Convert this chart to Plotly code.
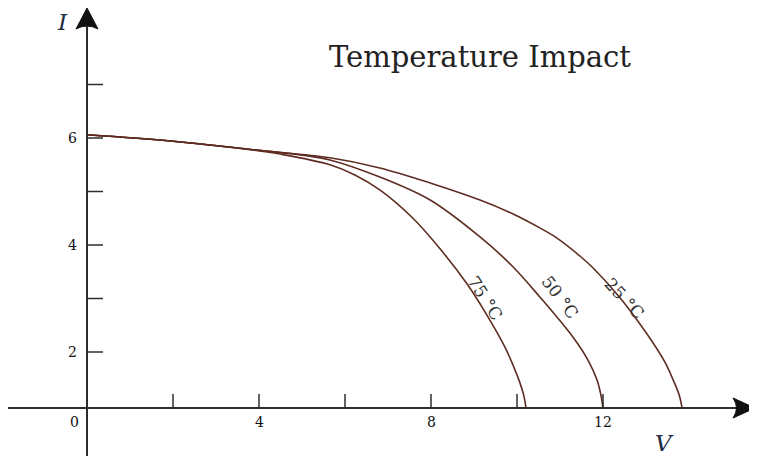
import plotly.graph_objects as go

# ---- data (V in volts, I in amperes) ----
v_25 = [0, 2.0, 4.0, 5.65, 6.81, 7.98, 9.14, 9.91, 10.53, 10.93, 11.47, 11.77, 12.40, 13.02, 13.44, 13.63, 13.77, 13.84]
i_25 = [6.06, 5.94, 5.77, 5.63, 5.44, 5.16, 4.84, 4.58, 4.32, 4.13, 3.79, 3.57, 3.01, 2.34, 1.81, 1.48, 1.20, 0.95]

v_50 = [0, 2.0, 4.0, 5.0, 5.65, 6.81, 7.98, 9.14, 9.91, 10.53, 11.30, 11.65, 11.86, 11.95, 12.0]
i_50 = [6.06, 5.94, 5.77, 5.68, 5.59, 5.27, 4.84, 4.15, 3.59, 3.03, 2.28, 1.85, 1.48, 1.20, 0.95]

v_75 = [0, 2.0, 4.0, 4.49, 5.65, 6.23, 6.81, 7.58, 8.21, 8.84, 9.30, 9.72, 10.02, 10.16, 10.21]
i_75 = [6.06, 5.94, 5.76, 5.70, 5.50, 5.31, 5.03, 4.50, 3.93, 3.27, 2.69, 2.09, 1.53, 1.18, 0.95]

curve_labels = ["25 °C", "50 °C", "75 °C"]
label_pos_v = [12.51, 11.0, 9.26]
label_pos_i = [2.99, 3.03, 3.01]
label_angles = [47, 53, 57]

x_tick_vals = [2, 4, 6, 8, 10, 12]
x_tick_text = {0: "0", 4: "4", 8: "8", 12: "12"}
y_tick_vals = [2, 3, 4, 5, 6, 7]
y_tick_text = {2: "2", 4: "4", 6: "6"}

title_text = "Temperature Impact"

# ---- layout geometry (page body has an 8px margin) ----
PAGE_W, PAGE_H, OFF = 757, 459, 8
W, H = PAGE_W - OFF, PAGE_H - OFF
PX_PER_V, PX_PER_I = 43.0, 53.5
ORIGIN_X, ZERO_I_Y = 87, 459          # page pixel of V=0 and of I=0
X_MIN, X_MAX = (OFF - ORIGIN_X) / PX_PER_V, (PAGE_W - ORIGIN_X) / PX_PER_V
Y_MIN, Y_MAX = (ZERO_I_Y - PAGE_H) / PX_PER_I, (ZERO_I_Y - OFF) / PX_PER_I
AXIS_Y = (ZERO_I_Y - 408) / PX_PER_I   # where the V axis crosses
px_x = 1 / PX_PER_V
px_y = 1 / PX_PER_I


def vx(page_px):
    return (page_px - ORIGIN_X) / PX_PER_V


def iy(page_py):
    return (ZERO_I_Y - page_py) / PX_PER_I


curve_color = "#5e2c22"
axis_color = "#2e2e2e"
serif = "DejaVu Serif"

fig = go.Figure()
for v, i in [(v_25, i_25), (v_50, i_50), (v_75, i_75)]:
    fig.add_trace(go.Scatter(x=v, y=i, mode="lines",
                             line=dict(color=curve_color, width=1.6, shape="spline", smoothing=1.0),
                             hoverinfo="skip", showlegend=False))

shapes = []
# axes lines
shapes.append(dict(type="line", xref="x", yref="y", x0=X_MIN, x1=vx(745), y0=AXIS_Y, y1=AXIS_Y,
                   line=dict(color=axis_color, width=2)))
shapes.append(dict(type="line", xref="x", yref="y", x0=0, x1=0, y0=iy(456), y1=iy(20),
                   line=dict(color=axis_color, width=2)))
# arrowheads
tipx, ax_y = vx(755), AXIS_Y
shapes.append(dict(type="path", xref="x", yref="y",
                   path=f"M {tipx} {ax_y} L {tipx - 22 * px_x} {ax_y + 10 * px_y} "
                        f"Q {tipx - 15 * px_x} {ax_y} {tipx - 22 * px_x} {ax_y - 10 * px_y} Z",
                   fillcolor="#111", line=dict(color="#111", width=1)))
tipy = iy(8)
shapes.append(dict(type="path", xref="x", yref="y",
                   path=f"M 0 {tipy} L {-11 * px_x} {tipy - 21 * px_y} "
                        f"Q 0 {tipy - 15 * px_y} {11 * px_x} {tipy - 21 * px_y} Z",
                   fillcolor="#111", line=dict(color="#111", width=1)))
# tick marks
for tv in x_tick_vals:
    shapes.append(dict(type="line", xref="x", yref="y", x0=tv, x1=tv, y0=AXIS_Y, y1=AXIS_Y + 14 * px_y,
                       line=dict(color=axis_color, width=1.5)))
for tv in y_tick_vals:
    shapes.append(dict(type="line", xref="x", yref="y", x0=0, x1=16 * px_x, y0=tv, y1=tv,
                       line=dict(color=axis_color, width=1.5)))

annotations = []
tick_font = dict(family=serif, size=14, color="#111")
for val, txt in x_tick_text.items():
    dx = -13 * px_x if val == 0 else 0
    annotations.append(dict(x=val + dx, y=AXIS_Y - 14 * px_y, text=txt, showarrow=False,
                            xref="x", yref="y", font=tick_font))
for val, txt in y_tick_text.items():
    annotations.append(dict(x=-15 * px_x, y=val, text=txt, showarrow=False,
                            xref="x", yref="y", font=tick_font))
for txt, lv, li, ang in zip(curve_labels, label_pos_v, label_pos_i, label_angles):
    annotations.append(dict(x=lv, y=li, text=txt, showarrow=False, textangle=ang,
                            xref="x", yref="y", font=dict(family=serif, size=17, color="#333")))
annotations.append(dict(x=vx(62), y=iy(22), text="<i>I</i>", showarrow=False,
                        xref="x", yref="y", font=dict(family=serif, size=23, color="#1f2a44")))
annotations.append(dict(x=vx(664), y=iy(443), text="<i>V</i>", showarrow=False,
                        xref="x", yref="y", font=dict(family=serif, size=23, color="#1f2a44")))
annotations.append(dict(x=vx(480), y=iy(57), text=title_text, showarrow=False,
                        xref="x", yref="y", font=dict(family=serif, size=29, color="#222")))

fig.update_layout(
    width=W, height=H,
    margin=dict(l=0, r=0, t=0, b=0),
    paper_bgcolor="white", plot_bgcolor="white",
    xaxis=dict(range=[X_MIN, X_MAX], visible=False, fixedrange=True),
    yaxis=dict(range=[Y_MIN, Y_MAX], visible=False, fixedrange=True),
    shapes=shapes, annotations=annotations,
)

fig.write_html("out.html")
